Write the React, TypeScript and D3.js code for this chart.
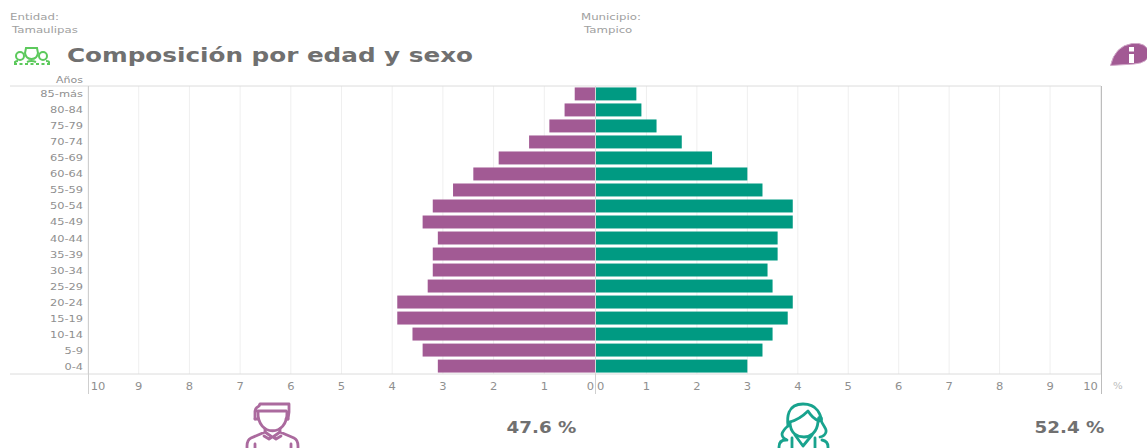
import React from "react";
import * as d3 from "d3";

const ageGroups = ["85-más", "80-84", "75-79", "70-74", "65-69", "60-64", "55-59", "50-54", "45-49", "40-44", "35-39", "30-34", "25-29", "20-24", "15-19", "10-14", "5-9", "0-4"];
const men = [0.4, 0.6, 0.9, 1.3, 1.9, 2.4, 2.8, 3.2, 3.4, 3.1, 3.2, 3.2, 3.3, 3.9, 3.9, 3.6, 3.4, 3.1];
const women = [0.8, 0.9, 1.2, 1.7, 2.3, 3.0, 3.3, 3.9, 3.9, 3.6, 3.6, 3.4, 3.5, 3.9, 3.8, 3.5, 3.3, 3.0];
const ticks = [0, 1, 2, 3, 4, 5, 6, 7, 8, 9, 10];
const totalMen = "47.6 %";
const totalWomen = "52.4 %";

const PURPLE = "#a25a94";
const GREEN = "#009a82";
const GREY = "#8f8f8f";
const LIGHT = "#a0a0a0";

const xLeft = d3.scaleLinear().domain([0, 10]).range([595, 88]);
const xRight = d3.scaleLinear().domain([0, 10]).range([596, 1100.5]);
const y = d3.scaleBand<string>().domain(ageGroups).range([86, 374]).paddingInner(0.19).paddingOuter(0.09);

// the original is stretched sideways, so every label gets a horizontal scale
function Label({ x, y, sx = 1.15, anchor = "start", children, ...rest }: any) {
  return (
    <text transform={`translate(${x},${y}) scale(${sx},1)`} textAnchor={anchor} {...rest}>
      {children}
    </text>
  );
}

export default function App() {
  const top = 86;
  const bottom = 374;
  return (
    <svg width={1147} height={448} style={{ position: "absolute", left: 0, top: 0 }} fontFamily="'DejaVu Sans', sans-serif">
      <Label x={10} y={20} sx={1.24} fontSize={9.5} fill={LIGHT}>Entidad:</Label>
      <Label x={12} y={33} sx={1.24} fontSize={9.5} fill={LIGHT}>Tamaulipas</Label>
      <Label x={581} y={20} sx={1.24} fontSize={9.5} fill={LIGHT}>Municipio:</Label>
      <Label x={584} y={33} sx={1.24} fontSize={9.5} fill={LIGHT}>Tampico</Label>

      {/* group icon */}
      <g fill="none" stroke="#5cc95c" strokeWidth={2}>
        <path d="M26 48h11l1 5q-1 6-6.500 6q-5.500 0-6.500-6z" />
        <circle cx={20} cy={56} r={4} />
        <circle cx={43} cy={56} r={4} />
        <path d="M15 64v-2q1-1 3-1M27 62q4-2 9 0M46 61q3 0 3 1v2" />
        <path d="M14 64h36" strokeDasharray="3 2.500" />
      </g>
      <text x={67} y={62} fontSize={19} fontWeight="bold" fill="#707070" textLength={406} lengthAdjust="spacingAndGlyphs">Composición por edad y sexo</text>

      {/* info badge */}
      <path d="M1110.500 65.500Q1115 46 1132 43.500Q1147 42 1149 53Q1149 63 1134 64Z" fill={PURPLE} stroke="#d0a8c8" strokeWidth={1} />
      <rect x={1129} y={54} width={5} height={9} fill="#fff" />
      <rect x={1129} y={47} width={5} height={4.500} fill="#fff" />

      <Label x={83} y={83} sx={1.16} fontSize={9.5} fill={GREY} anchor="end">Años</Label>

      {/* grid */}
      {ticks.slice(1).map((t) => (
        <g key={t} stroke="#efefef">
          <line x1={xLeft(t)} x2={xLeft(t)} y1={top} y2={bottom} />
          <line x1={xRight(t)} x2={xRight(t)} y1={top} y2={bottom} />
        </g>
      ))}
      <line x1={10} x2={1101} y1={top} y2={top} stroke="#dcdcdc" />
      <line x1={10} x2={1101} y1={bottom} y2={bottom} stroke="#dcdcdc" />
      <line x1={88.500} x2={88.500} y1={top} y2={394} stroke="#cfcfcf" />
      <line x1={1101.500} x2={1101.500} y1={top} y2={394} stroke="#bdbdbd" />
      <line x1={595.500} x2={595.500} y1={374} y2={394} stroke="#cfcfcf" />

      {/* bars */}
      {ageGroups.map((age, i) => (
        <g key={age}>
          <Label x={83} y={y(age)! + y.bandwidth() / 2 + 3.500} sx={1.2} fontSize={9.5} fill={GREY} anchor="end">{age}</Label>
          <rect x={xLeft(men[i])} y={y(age)} width={xLeft(0) - xLeft(men[i])} height={y.bandwidth()} fill={PURPLE} />
          <rect x={xRight(0)} y={y(age)} width={xRight(women[i]) - xRight(0)} height={y.bandwidth()} fill={GREEN} />
        </g>
      ))}
      <line x1={595.500} x2={595.500} y1={top} y2={bottom} stroke="#d8d8d8" />

      {/* axis labels */}
      {ticks.map((t) => (
        <g key={t} fontSize={10} fill={GREY}>
          <Label x={t === 0 ? 594 : xLeft(t) + (t === 10 ? 10 : 0)} y={390} anchor={t === 0 ? "end" : "middle"}>{t}</Label>
          <Label x={t === 0 ? 597 : xRight(t) - (t === 10 ? 10 : 0)} y={390} anchor={t === 0 ? "start" : "middle"}>{t}</Label>
        </g>
      ))}
      <Label x={1113} y={389} sx={1.2} fontSize={8.5} fill="#bdbdbd">%</Label>

      {/* man icon */}
      <g fill="none" stroke={PURPLE} strokeWidth={2.800} strokeLinejoin="round" strokeLinecap="round" opacity={0.9}>
        <path d="M255 419v-8q0-3 4-5l1-2h29v8l-1 7" />
        <path d="M257 411h29" />
        <path d="M258 412c-1 25 30 25 29 0" />
        <path d="M255 419h3M288 419h-2" />
        <path d="M265 429v3l-14 6q-4 2-4 8v4M280 429v3l14 6q4 2 4 8v4" />
        <path d="M265 432l7 5l-3 2l-5-3M280 432l-7 5l3 2l5-3M272 437h1" />
        <path d="M255 444v6M291 444v6" />
      </g>

      {/* woman icon */}
      <g fill="none" stroke={GREEN} strokeWidth={2.800} strokeLinejoin="round" strokeLinecap="round" opacity={0.9}>
        <path d="M788 426c-1-8-1-22 15-22c15 0 18 12 18 16c1 5 6 8 5 12q-1 4-6 5" />
        <path d="M788 426q-5 4-6 8q0 4 5 6" />
        <path d="M790 422c7-2 13-6 18-11c3 5 6 8 11 10" />
        <path d="M790 422c0 12 8 15 14 15c6 0 13-4 14-15" />
        <circle cx={820} cy={419} r={1.500} />
        <path d="M786 440q-7 0-7 7v4M822 440q6 1 6 7v4" />
        <path d="M792 438v14M815 438v14M795 435l8 11l9-11" />
      </g>

      <Label x={541.500} y={433} sx={1.22} fontSize={15} fontWeight="bold" fill="#707070" anchor="middle">{totalMen}</Label>
      <Label x={1069.500} y={433} sx={1.22} fontSize={15} fontWeight="bold" fill="#707070" anchor="middle">{totalWomen}</Label>
    </svg>
  );
}
